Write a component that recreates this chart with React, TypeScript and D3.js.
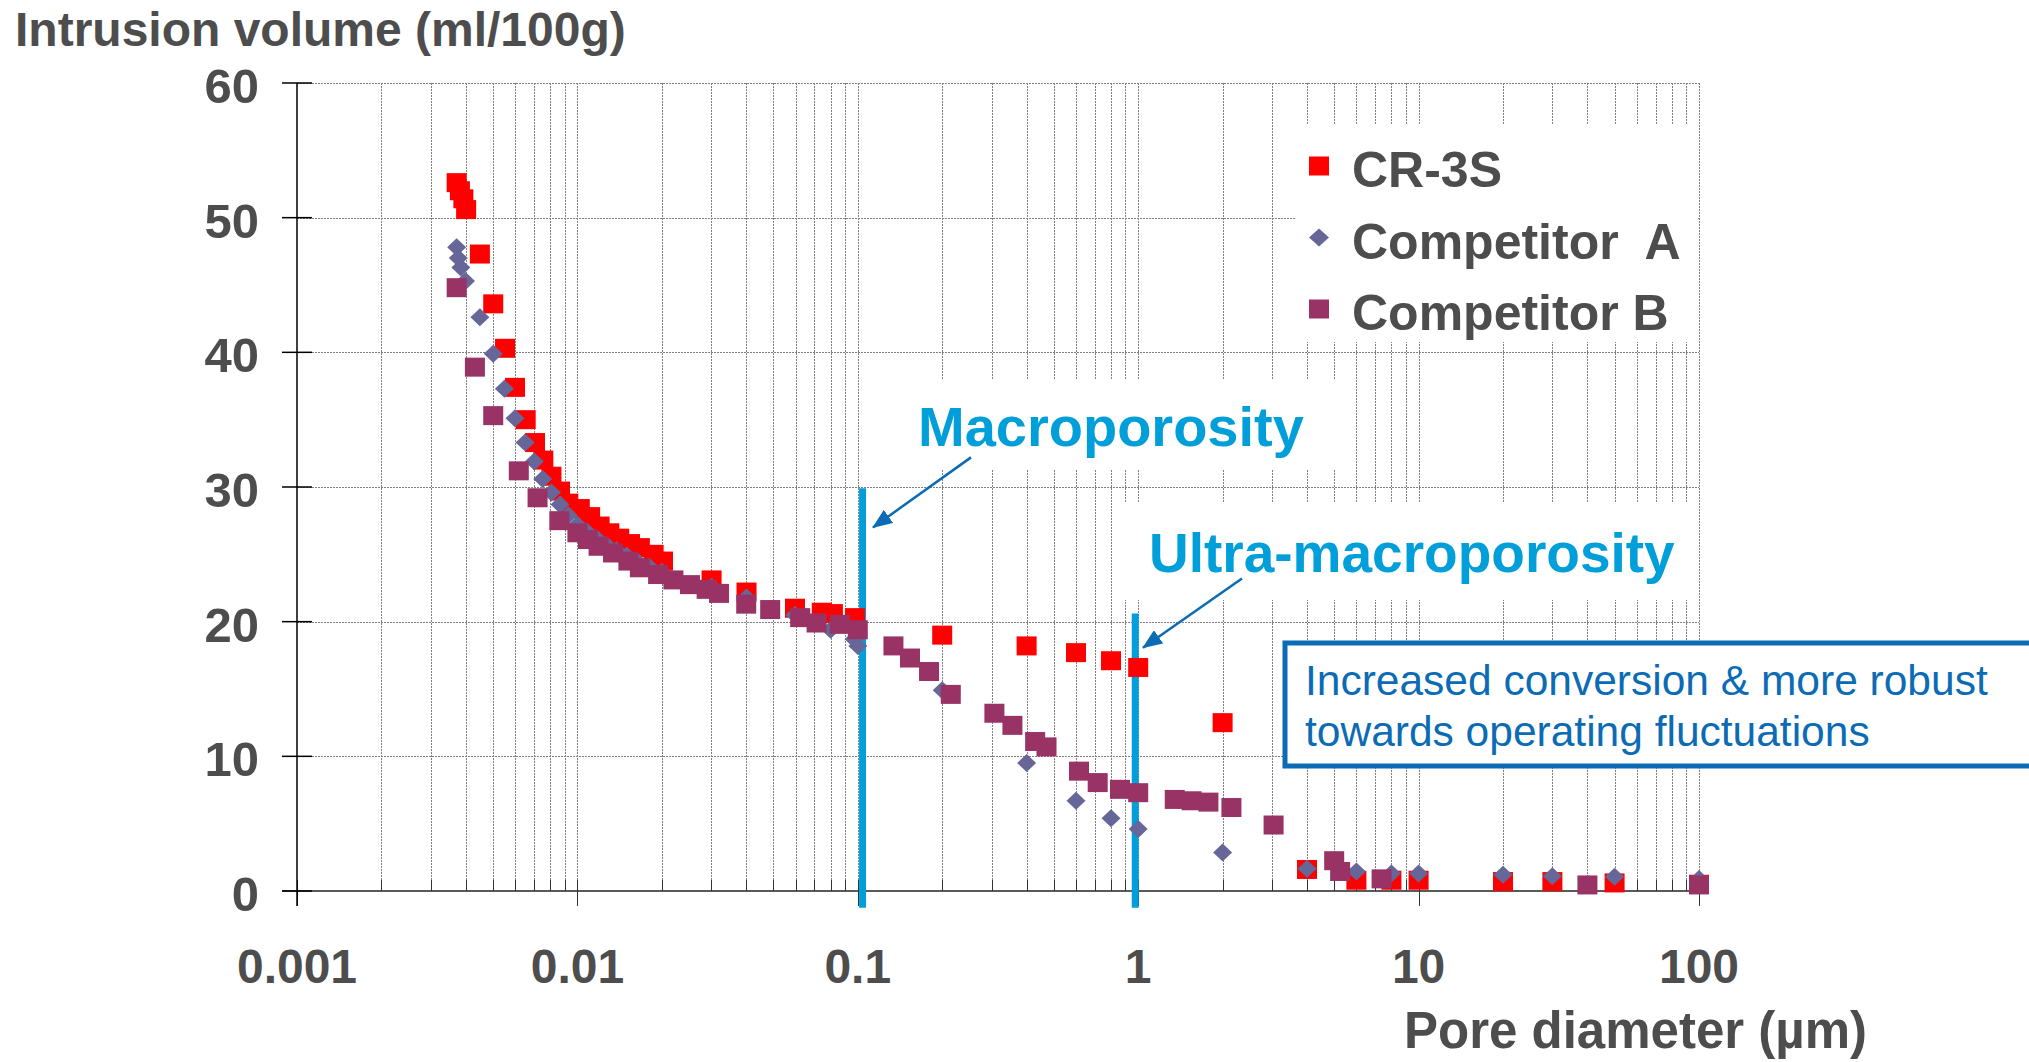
import { useEffect, useRef } from 'react';
import * as d3 from 'd3';

// pore diameter (µm), intrusion volume (ml/100g)
const cr3s: [number, number][] = [
  [0.00371, 52.6], [0.00381, 52.0], [0.00392, 51.4], [0.00401, 50.6], [0.00449, 47.3],
  [0.00501, 43.6], [0.00552, 40.3], [0.00599, 37.4], [0.00654, 35.0], [0.00706, 33.3],
  [0.00756, 32.0], [0.00808, 30.8], [0.00867, 29.7], [0.00928, 28.8], [0.0102, 28.4],
  [0.0111, 27.8], [0.0120, 27.1], [0.0130, 26.6], [0.0141, 26.2], [0.0154, 25.8],
  [0.0167, 25.5], [0.0187, 25.0], [0.0202, 24.5], [0.0301, 23.1], [0.0401, 22.2],
  [0.0597, 21.0], [0.0744, 20.7], [0.0815, 20.6], [0.0977, 20.3], [0.2, 19.0],
  [0.4, 18.2], [0.6, 17.7], [0.8, 17.1], [1, 16.6], [2, 12.5], [4, 1.6], [6, 0.8],
  [8, 0.8], [10, 0.8], [20, 0.7], [30, 0.7], [50, 0.6], [100, 0.5],
];

const competitorA: [number, number][] = [
  [0.00371, 47.8], [0.00376, 47.0], [0.00384, 46.3], [0.00399, 45.3], [0.00449, 42.6],
  [0.00501, 39.9], [0.00549, 37.3], [0.00599, 35.1], [0.00651, 33.3], [0.00702, 31.9],
  [0.00752, 30.6], [0.00808, 29.6], [0.00867, 28.7], [0.00928, 27.9], [0.0100, 27.2],
  [0.0108, 26.7], [0.0117, 26.2], [0.0127, 25.7], [0.0138, 25.3], [0.0150, 24.9],
  [0.0163, 24.5], [0.0180, 24.1], [0.0200, 23.7], [0.0301, 22.6], [0.0401, 21.8],
  [0.0597, 20.5], [0.0800, 19.4], [0.0970, 18.7], [0.1, 18.2], [0.2, 14.9],
  [0.4, 9.5], [0.6, 6.7], [0.8, 5.4], [1, 4.6], [2, 2.85], [4, 1.65], [6, 1.45],
  [8, 1.3], [10, 1.3], [20, 1.2], [30, 1.1], [50, 1.05], [100, 0.9],
];

const competitorB: [number, number][] = [
  [0.00371, 44.8], [0.00431, 38.9], [0.00501, 35.3], [0.00618, 31.2], [0.00721, 29.2],
  [0.00862, 27.5], [0.0100, 26.6], [0.0109, 26.1], [0.0119, 25.6], [0.0134, 25.1],
  [0.0152, 24.5], [0.0167, 24.0], [0.0194, 23.5], [0.0220, 23.1], [0.0252, 22.75],
  [0.0289, 22.4], [0.0320, 22.1], [0.0400, 21.3], [0.0487, 20.9], [0.0623, 20.3],
  [0.0713, 19.9], [0.0862, 19.8], [0.1, 19.4], [0.134, 18.2], [0.1535, 17.3],
  [0.1795, 16.3], [0.2146, 14.6], [0.307, 13.2], [0.356, 12.3], [0.429, 11.1],
  [0.471, 10.7], [0.615, 8.9], [0.717, 8.05], [0.861, 7.55], [1, 7.3], [1.35, 6.8],
  [1.55, 6.7], [1.78, 6.6], [2.15, 6.2], [3.04, 4.9], [5, 2.25], [5.25, 1.45],
  [7.38, 0.9], [40, 0.45], [100, 0.45],
];

const seriesNames = ['CR-3S', 'Competitor  A', 'Competitor B'];
const xTickValues = [0.001, 0.01, 0.1, 1, 10, 100];
const xTickLabels = ['0.001', '0.01', '0.1', '1', '10', '100'];
const yTickValues = [0, 10, 20, 30, 40, 50, 60];

const FONT = '"Liberation Sans", Arial, sans-serif';
const GRAY = '#4d4d4d';
const CYAN = '#009fda';
const BLUE = '#0b6bb5';
const RED = '#ff0000';
const SLATE = '#666699';
const PLUM = '#993366';

const App = () => {
  const ref = useRef<SVGSVGElement>(null);

  useEffect(() => {
    if (!ref.current) return;
    const svg = d3.select(ref.current);
    svg.selectAll('*').remove();

    const x = d3.scaleLog().domain([0.001, 100]).range([297, 1699]);
    const y = d3.scaleLinear().domain([0, 60]).range([891, 83]);
    const isDecade = (v: number) => Math.abs(Math.log10(v) - Math.round(Math.log10(v))) < 1e-9;

    // grid
    const grid = svg.append('g')
      .attr('stroke', '#808080')
      .attr('stroke-width', 1)
      .attr('stroke-dasharray', '2,1');
    grid.selectAll('line.v')
      .data(x.ticks().filter(v => v > 0.001))
      .join('line')
      .attr('x1', d => Math.round(x(d)) + 0.5)
      .attr('x2', d => Math.round(x(d)) + 0.5)
      .attr('y1', y(60))
      .attr('y2', y(0));
    grid.selectAll('line.h')
      .data(yTickValues.filter(v => v > 0))
      .join('line')
      .attr('x1', x(0.001))
      .attr('x2', x(100))
      .attr('y1', d => Math.round(y(d)) + 0.5)
      .attr('y2', d => Math.round(y(d)) + 0.5);

    // white label backgrounds over the grid
    svg.append('rect').attr('x', 1295).attr('y', 125).attr('width', 402).attr('height', 217).attr('fill', '#fff');
    svg.append('rect').attr('x', 900).attr('y', 380).attr('width', 445).attr('height', 89).attr('fill', '#fff');
    svg.append('rect').attr('x', 1118).attr('y', 503).attr('width', 580).attr('height', 97).attr('fill', '#fff');

    // axes
    const axes = svg.append('g');
    axes.append('line')
      .attr('x1', x(0.001) - 15).attr('x2', x(100))
      .attr('y1', y(0)).attr('y2', y(0))
      .attr('stroke', '#5a5a5a').attr('stroke-width', 2);
    axes.selectAll('line.xt')
      .data(x.ticks())
      .join('line')
      .attr('x1', d => Math.round(x(d)) + 0.5)
      .attr('x2', d => Math.round(x(d)) + 0.5)
      .attr('y1', y(0) - 11)
      .attr('y2', d => isDecade(d) ? y(0) + 15 : y(0))
      .attr('stroke', '#333').attr('stroke-width', 1);
    axes.append('line')
      .attr('x1', x(0.001)).attr('x2', x(0.001))
      .attr('y1', y(60)).attr('y2', y(0) + 15)
      .attr('stroke', '#000').attr('stroke-width', 1.5);
    axes.selectAll('line.yt')
      .data(yTickValues)
      .join('line')
      .attr('x1', x(0.001) - 15).attr('x2', x(0.001) + 15)
      .attr('y1', d => y(d)).attr('y2', d => y(d))
      .attr('stroke', '#000').attr('stroke-width', 1.5);

    // tick labels
    svg.append('g')
      .selectAll('text')
      .data(yTickValues)
      .join('text')
      .attr('x', 259)
      .attr('y', d => y(d) + 20)
      .attr('text-anchor', 'end')
      .attr('font-family', FONT).attr('font-weight', 'bold').attr('font-size', 49)
      .attr('fill', GRAY)
      .text(d => String(d));
    svg.append('g')
      .selectAll('text')
      .data(xTickValues)
      .join('text')
      .attr('x', d => x(d))
      .attr('y', 983)
      .attr('text-anchor', 'middle')
      .attr('font-family', FONT).attr('font-weight', 'bold').attr('font-size', 48)
      .attr('fill', GRAY)
      .text((d, i) => xTickLabels[i]);

    // axis titles
    svg.append('text')
      .attr('x', 15).attr('y', 46)
      .attr('font-family', FONT).attr('font-weight', 'bold').attr('font-size', 48)
      .attr('fill', GRAY)
      .text('Intrusion volume (ml/100g)');
    svg.append('text')
      .attr('x', 1867).attr('y', 1048)
      .attr('text-anchor', 'end')
      .attr('font-family', FONT).attr('font-weight', 'bold').attr('font-size', 51)
      .attr('fill', GRAY)
      .text('Pore diameter (µm)');

    // region markers
    const bands = [
      { v: 0.104, top: 29.9 },
      { v: 0.976, top: 20.6 },
    ];
    svg.append('g')
      .selectAll('line')
      .data(bands)
      .join('line')
      .attr('x1', d => x(d.v)).attr('x2', d => x(d.v))
      .attr('y1', d => y(d.top)).attr('y2', y(-1.25))
      .attr('stroke', CYAN).attr('stroke-width', 7);

    svg.append('text')
      .attr('x', 918).attr('y', 446)
      .attr('font-family', FONT).attr('font-weight', 'bold').attr('font-size', 56)
      .attr('fill', CYAN)
      .text('Macroporosity');
    svg.append('text')
      .attr('x', 1149).attr('y', 572)
      .attr('font-family', FONT).attr('font-weight', 'bold').attr('font-size', 55)
      .attr('fill', CYAN)
      .text('Ultra-macroporosity');

    // arrows
    svg.append('defs').append('marker')
      .attr('id', 'arrowhead')
      .attr('markerUnits', 'userSpaceOnUse')
      .attr('markerWidth', 20).attr('markerHeight', 16)
      .attr('refX', 19).attr('refY', 8)
      .attr('orient', 'auto')
      .append('path')
      .attr('d', 'M0,0 L20,8 L0,16 Z')
      .attr('fill', BLUE);
    const arrows = [
      { x1: 0.2533, y1: 32.2, x2: 0.1133, y2: 27.0 },
      { x1: 2.345, y1: 23.2, x2: 1.04, y2: 18.07 },
    ];
    svg.append('g')
      .selectAll('line')
      .data(arrows)
      .join('line')
      .attr('x1', d => x(d.x1)).attr('y1', d => y(d.y1))
      .attr('x2', d => x(d.x2)).attr('y2', d => y(d.y2))
      .attr('stroke', BLUE).attr('stroke-width', 2.5)
      .attr('marker-end', 'url(#arrowhead)');

    // data points
    const squareW = 20, squareH = 19;
    const pts = svg.append('g');
    pts.append('g')
      .selectAll('rect')
      .data(cr3s)
      .join('rect')
      .attr('x', d => x(d[0]) - squareW / 2)
      .attr('y', d => y(d[1]) - squareH / 2)
      .attr('width', squareW).attr('height', squareH)
      .attr('fill', RED);
    pts.append('g')
      .selectAll('path')
      .data(competitorA)
      .join('path')
      .attr('transform', d => `translate(${x(d[0])},${y(d[1])})`)
      .attr('d', 'M0,-9 L9.5,0 L0,9 L-9.5,0 Z')
      .attr('fill', SLATE);
    pts.append('g')
      .selectAll('rect')
      .data(competitorB)
      .join('rect')
      .attr('x', d => x(d[0]) - squareW / 2)
      .attr('y', d => y(d[1]) - squareH / 2)
      .attr('width', squareW).attr('height', squareH)
      .attr('fill', PLUM);

    // legend
    const legend = svg.append('g').attr('transform', 'translate(1319,166)');
    const rowGap = 71.5;
    legend.append('rect').attr('x', -10).attr('y', -9.5).attr('width', 20).attr('height', 19).attr('fill', RED);
    legend.append('path').attr('d', `M0,${rowGap - 9} L10,${rowGap} L0,${rowGap + 9} L-10,${rowGap} Z`).attr('fill', SLATE);
    legend.append('rect').attr('x', -10).attr('y', 2 * rowGap - 9.5).attr('width', 20).attr('height', 19).attr('fill', PLUM);
    legend.selectAll('text')
      .data(seriesNames)
      .join('text')
      .attr('x', 33)
      .attr('y', (d, i) => 21 + i * rowGap)
      .attr('font-family', FONT).attr('font-weight', 'bold').attr('font-size', 50)
      .attr('fill', GRAY)
      .style('white-space', 'pre')
      .text(d => d);

    // note box
    svg.append('rect')
      .attr('x', 1285).attr('y', 643)
      .attr('width', 800).attr('height', 123)
      .attr('fill', '#fff')
      .attr('stroke', BLUE).attr('stroke-width', 5);
    svg.append('g')
      .selectAll('text')
      .data(['Increased conversion & more robust', 'towards operating fluctuations'])
      .join('text')
      .attr('x', 1305)
      .attr('y', (d, i) => 695 + i * 51)
      .attr('font-family', FONT).attr('font-size', 42.5)
      .attr('fill', BLUE)
      .text(d => d);
  }, []);

  return (
    <svg
      ref={ref}
      width={2029}
      height={1062}
      style={{ position: 'absolute', left: 0, top: 0, background: '#fff', display: 'block' }}
    />
  );
};

export default App;
